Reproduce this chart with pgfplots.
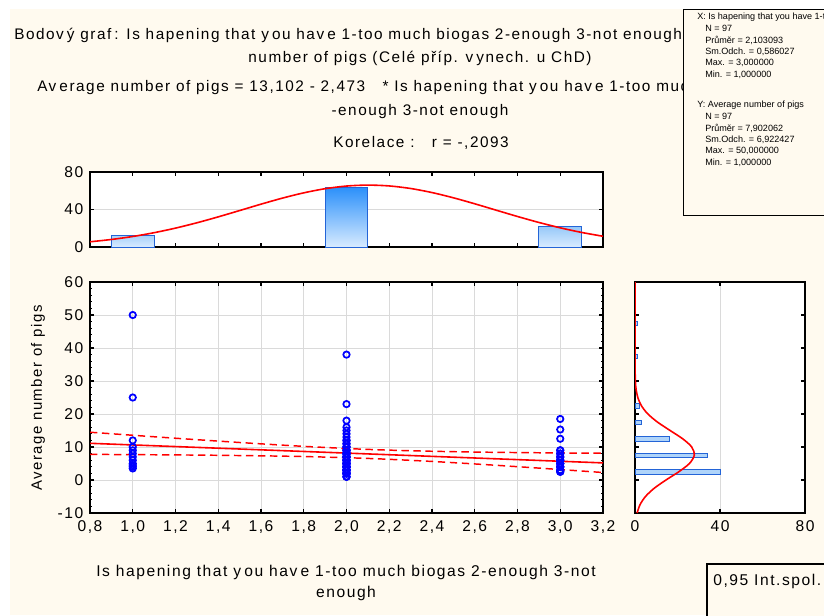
\documentclass[border=0pt]{standalone}
\usepackage{pgfplots}
\pgfplotsset{compat=1.18}
\usepackage{fontspec}
\setmainfont{Liberation Sans}[LetterSpace=10]
\newfontfamily\plainfam{Liberation Sans}
\definecolor{bgcream}{RGB}{255,250,239}
\definecolor{gridgray}{RGB}{218,218,218}
\definecolor{barblue}{RGB}{35,100,215}
\definecolor{barlight}{RGB}{216,235,255}
\definecolor{bardark}{RGB}{45,145,250}
\definecolor{barmid1}{RGB}{170,210,250}
\definecolor{barmid3}{RGB}{150,200,248}
\definecolor{hbar}{RGB}{175,212,250}
\newcommand{\tf}{\fontsize{11.7}{13}\selectfont}
\newcommand{\ylf}{\fontsize{11.2}{13}\selectfont}
\newcommand{\titf}{\fontsize{11.5}{13}\selectfont}
\newcommand{\statf}{\plainfam\fontsize{6.8}{8}\selectfont}
\newcommand{\gp}{\kern0.2em}
\pgfplotsset{
  every axis/.append style={
    scale only axis,
    axis line style={line width=1.1pt, black},
    every tick/.style={black, line width=0.8pt},
    major tick length=3pt, minor tick length=1.8pt,
    axis background/.style={fill=white},
    tick label style={font=\tf},
    xticklabel style={yshift=-2.5pt},
    yticklabel style={xshift=-1.5pt},
    /pgf/number format/assume math mode=true,
    /pgf/number format/use comma,
    grid style={gridgray, line width=0.6pt},
  }
}
\begin{document}
\begin{tikzpicture}
\fill[bgcream] (7.5pt,-6.75pt) rectangle (618pt,-461.25pt);

% ---------- main scatter ----------
\begin{axis}[
  at={(67.5pt,-384.75pt)}, anchor=south west,
  width=384.75pt, height=173.25pt,
  xmin=0.8, xmax=3.2, ymin=-10, ymax=60,
  xtick={0.8,1,1.2,1.4,1.6,1.8,2,2.2,2.4,2.6,2.8,3,3.2},
  ytick={-10,0,10,20,30,40,50,60},
  minor y tick num=4,
  xticklabel={\pgfmathprintnumber[fixed,fixed zerofill,precision=1,use comma,assume math mode=true]{\tick}},
  grid=major,
]
\addplot[only marks, mark=o, mark size=2.4pt, blue, mark options={line width=1.3pt}] coordinates {
(1,50)(1,25)(1,12)(1,10)(1,9)(1,8)(1,7)(1,6)(1,5)(1,4)(1,4.5)(1,3.5)
(2,38)(2,23)(2,18)(2,16)(2,15)(2,14)(2,13)(2,12)(2,12)(2,11)(2,11)
(2,10)(2,10)(2,10)(2,9)(2,9)(2,9)(2,9)(2,8)(2,8)(2,8)(2,8)(2,8)
(2,7)(2,7)(2,7)(2,7)(2,7)(2,6)(2,6)(2,6)(2,6)(2,6)(2,6)
(2,5)(2,5)(2,5)(2,5)(2,5)(2,5)(2,4)(2,4)(2,4)(2,4)(2,4)(2,4)(2,4)
(2,3)(2,3)(2,3)(2,3)(2,3)(2,3)(2,3)(2,2)(2,2)(2,2)(2,2)(2,2)(2,2)
(2,1)(2,1)(2,1)
(3,18.5)(3,15.3)(3,12.5)(3,9)(3,9)(3,8)(3,8)(3,7)(3,7)(3,6)(3,6)(3,6)
(3,5)(3,5)(3,5)(3,4)(3,4)(3,4)(3,3)(3,3)(3,2.5)(3,2.5)
};
\addplot[red, line width=1.2pt] coordinates {(0.8,11.124)(3.2,5.188)};
\addplot[red, line width=1.1pt, dash pattern=on 5.5pt off 3.5pt, smooth] coordinates {
(0.8,14.48)(1.0,13.56)(1.2,12.66)(1.4,11.79)(1.6,10.96)(1.8,10.20)(2.0,9.55)(2.1,9.28)(2.2,9.05)(2.4,8.71)(2.6,8.47)(2.8,8.32)(3.0,8.20)(3.2,8.11)};
\addplot[red, line width=1.1pt, dash pattern=on 5.5pt off 3.5pt, smooth] coordinates {
(0.8,7.77)(1.0,7.69)(1.2,7.61)(1.4,7.49)(1.6,7.33)(1.8,7.11)(2.0,6.76)(2.1,6.54)(2.2,6.27)(2.4,5.63)(2.6,4.87)(2.8,4.04)(3.0,3.17)(3.2,2.27)};
\end{axis}

% ---------- top histogram ----------
\begin{axis}[
  at={(67.5pt,-185.25pt)}, anchor=south west,
  width=384.75pt, height=56.25pt,
  xmin=0.8, xmax=3.2, ymin=0, ymax=80,
  xtick={0.8,1,1.2,1.4,1.6,1.8,2,2.2,2.4,2.6,2.8,3,3.2},
  xticklabels={},
  ytick={0,40,80},
  ymajorgrids,
]
\addplot[ybar, bar width=0.2, draw=barblue, line width=0.7pt, top color=barmid1, bottom color=barlight] coordinates {(1,12)};
\addplot[ybar, bar width=0.2, draw=barblue, line width=0.7pt, top color=bardark, bottom color=barlight] coordinates {(2,63)};
\addplot[ybar, bar width=0.2, draw=barblue, line width=0.7pt, top color=barmid3, bottom color=barlight] coordinates {(3,22)};
\addplot[red, line width=1.2pt, smooth] coordinates {
(0.8,5.57)(0.9,8.03)(1.0,11.23)(1.1,15.27)(1.2,20.15)(1.3,25.83)(1.4,32.16)(1.5,38.89)(1.6,45.69)(1.7,52.13)(1.8,57.77)(1.9,62.19)(2.0,65.02)(2.1,66.03)(2.2,65.13)(2.3,62.41)(2.4,58.07)(2.5,52.49)(2.6,46.09)(2.7,39.30)(2.8,32.55)(2.9,26.19)(3.0,20.46)(3.1,15.54)(3.2,11.46)};
\end{axis}

% ---------- right histogram ----------
\begin{axis}[
  at={(476.25pt,-384.75pt)}, anchor=south west,
  width=127.5pt, height=173.25pt,
  xmin=0, xmax=80, ymin=-10, ymax=60,
  xtick={0,40,80},
  ytick={-10,0,10,20,30,40,50,60},
  yticklabels={},
  xmajorgrids,
]
\addplot[xbar, bar width=1.3, draw=barblue, line width=0.6pt, fill=hbar] coordinates {
(1,47.5)(1,37.5)(2,22.5)(3,17.5)(16,12.5)(34,7.5)(40,2.5)};
\addplot[red, line width=1.2pt, smooth] coordinates {
(0.99,-10)(2.35,-7.5)(4.92,-5)(9.04,-2.5)(14.57,0)(20.61,2.5)(25.60,5)(27.90,7.5)(26.70,10)(22.42,12.5)(16.52,15)(10.69,17.5)(6.07,20)(3.02,22.5)(1.32,25)(0.51,27.5)(0.17,30)(0.02,35)(0,40)(0,60)};
\end{axis}

% ---------- annotations ----------
\begin{scope}[x=0.75pt,y=-0.75pt, every node/.style={inner sep=0pt}]
\node[anchor=west, font=\titf] at (14,35) {Bodov\gp ý graf\gp: Is hapening that y\gp ou hav\gp e 1-too much biogas 2-enough 3-not enough vs. Average};
\node[font=\titf] at (420,58) {number of pigs (Celé příp. v\gp ynech. u ChD)};
\node[anchor=west, font=\titf] at (37,88) {Av\gp erage number of pigs = 13,102 - 2,473\ \ \ * Is hapening that y\gp ou hav\gp e 1-too much biogas 2};
\node[font=\titf] at (420,112) {-enough 3-not enough};
\node[font=\titf] at (421,143) {Korelace :\ \ \ r = -,2093};

\draw[fill=bgcream, line width=0.7pt] (683,9) rectangle (840,215);
\node[anchor=west, font=\statf] at (697,17) {X: Is hapening that you have 1-too much};
\node[anchor=west, font=\statf] at (705,28.5) {N = 97};
\node[anchor=west, font=\statf] at (705,40) {Průměr = 2,103093};
\node[anchor=west, font=\statf] at (705,51.5) {Sm.Odch. = 0,586027};
\node[anchor=west, font=\statf] at (705,63) {Max. = 3,000000};
\node[anchor=west, font=\statf] at (705,74.5) {Min. = 1,000000};
\node[anchor=west, font=\statf] at (697,105) {Y: Average number of pigs};
\node[anchor=west, font=\statf] at (705,116.5) {N = 97};
\node[anchor=west, font=\statf] at (705,128) {Průměr = 7,902062};
\node[anchor=west, font=\statf] at (705,139.5) {Sm.Odch. = 6,922427};
\node[anchor=west, font=\statf] at (705,151) {Max. = 50,000000};
\node[anchor=west, font=\statf] at (705,162.5) {Min. = 1,000000};

\node[rotate=90, font=\ylf] at (38,398) {Average number of pigs};
\node[font=\tf] at (346,572) {Is hapening that y\gp ou hav\gp e 1-too much biogas 2-enough 3-not};
\node[font=\tf] at (346,593) {enough};

\draw[fill=bgcream, line width=1.5pt] (707,564) rectangle (840,630);
\node[anchor=west, font=\tf] at (713,581) {0,95 Int.spol.};
\end{scope}
\pgfresetboundingbox
\path[use as bounding box] (0pt,0pt) rectangle (618pt,-461.25pt);
\end{tikzpicture}
\end{document}
